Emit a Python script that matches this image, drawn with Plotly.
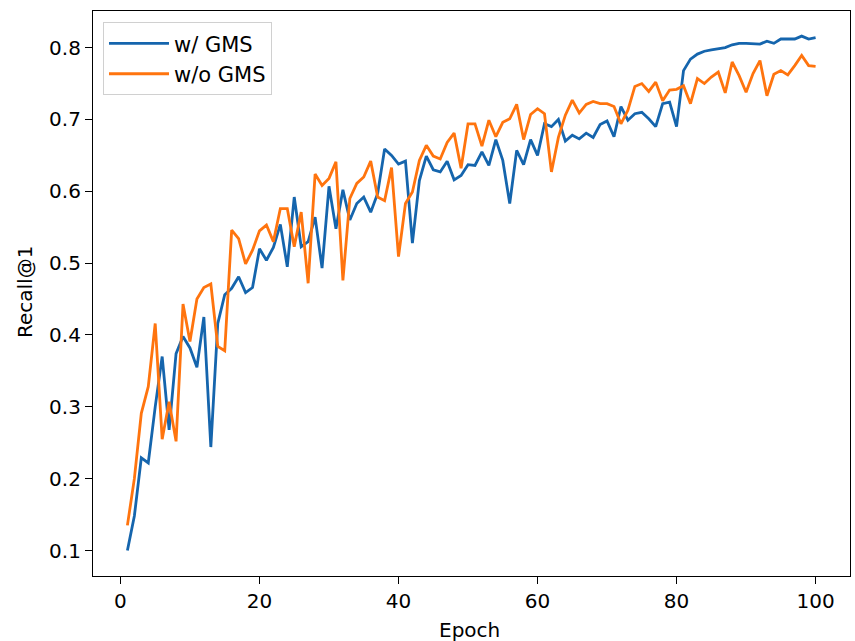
import plotly.graph_objects as go

epochs = list(range(1, 101))

with_gms = [
    0.100, 0.148, 0.229, 0.222, 0.300, 0.370, 0.268, 0.374, 0.398, 0.382,
    0.355, 0.425, 0.244, 0.416, 0.456, 0.465, 0.481, 0.459, 0.466, 0.520,
    0.504, 0.522, 0.554, 0.495, 0.592, 0.523, 0.530, 0.564, 0.493, 0.607,
    0.548, 0.602, 0.560, 0.583, 0.592, 0.571, 0.597, 0.659, 0.650, 0.638,
    0.642, 0.528, 0.615, 0.649, 0.630, 0.627, 0.642, 0.616, 0.622, 0.637,
    0.636, 0.655, 0.636, 0.672, 0.643, 0.583, 0.657, 0.637, 0.672, 0.650,
    0.694, 0.690, 0.700, 0.670, 0.678, 0.673, 0.681, 0.675, 0.693, 0.698,
    0.676, 0.718, 0.699, 0.708, 0.710, 0.701, 0.690, 0.722, 0.724, 0.690,
    0.768, 0.784, 0.791, 0.795, 0.797, 0.799, 0.800, 0.804, 0.806, 0.806,
    0.805, 0.805, 0.809, 0.806, 0.812, 0.812, 0.812, 0.816, 0.812, 0.814,
]

without_gms = [
    0.135, 0.200, 0.291, 0.328, 0.416, 0.255, 0.307, 0.252, 0.443, 0.391,
    0.450, 0.466, 0.471, 0.384, 0.378, 0.546, 0.534, 0.499, 0.518, 0.545,
    0.553, 0.530, 0.576, 0.576, 0.523, 0.571, 0.472, 0.624, 0.608, 0.618,
    0.641, 0.476, 0.590, 0.611, 0.620, 0.642, 0.592, 0.587, 0.633, 0.509,
    0.583, 0.599, 0.643, 0.664, 0.649, 0.645, 0.668, 0.681, 0.632, 0.694,
    0.694, 0.663, 0.699, 0.676, 0.696, 0.701, 0.721, 0.672, 0.707, 0.715,
    0.708, 0.627, 0.675, 0.706, 0.727, 0.709, 0.721, 0.725, 0.722, 0.722,
    0.718, 0.694, 0.713, 0.746, 0.750, 0.739, 0.752, 0.726, 0.741, 0.742,
    0.747, 0.722, 0.757, 0.750, 0.759, 0.766, 0.737, 0.780, 0.761, 0.738,
    0.764, 0.782, 0.733, 0.763, 0.768, 0.762, 0.775, 0.789, 0.775, 0.774,
]

series_names = ["w/ GMS", "w/o GMS"]
series_colors = ["#1565ad", "#ff740e"]

x_ticks = [0, 20, 40, 60, 80, 100]
y_ticks = [0.1, 0.2, 0.3, 0.4, 0.5, 0.6, 0.7, 0.8]

x_title = "Epoch"
y_title = "Recall@1"

font_family = "DejaVu Sans"

fig = go.Figure()
for name, vals, col in zip(series_names, [with_gms, without_gms], series_colors):
    fig.add_trace(go.Scatter(
        x=epochs, y=vals, mode="lines", name=name,
        line=dict(color=col, width=2.8),
    ))

axis_common = dict(
    showline=True, linecolor="black", linewidth=1.2, mirror=True,
    ticks="outside", ticklen=7, tickwidth=1.2, tickcolor="black",
    showgrid=False, zeroline=False, automargin=False,
    tickfont=dict(family=font_family, size=20, color="black"),
)

fig.update_layout(
    width=855, height=641,
    margin=dict(l=93, r=5, t=11, b=65),
    paper_bgcolor="white", plot_bgcolor="white",
    font=dict(family=font_family, size=20, color="black"),
    xaxis=dict(range=[-3.95, 104.95], tickvals=x_ticks, **axis_common),
    yaxis=dict(range=[0.0645, 0.851], tickvals=y_ticks, tickformat=".1f", **axis_common),
    legend=dict(
        x=0.0132, y=0.98, xanchor="left", yanchor="top",
        bgcolor="white", bordercolor="#d0d0d0", borderwidth=1,
        font=dict(family=font_family, size=21, color="black"),
        itemwidth=60, tracegroupgap=0,
    ),
    showlegend=True,
)

fig.add_annotation(
    text=x_title, xref="paper", yref="paper", x=0.498, y=-0.0956,
    xanchor="center", yanchor="middle", showarrow=False,
    font=dict(family=font_family, size=20, color="black"),
)
fig.add_annotation(
    text=y_title, xref="paper", yref="paper", x=-0.0898, y=0.5027,
    xanchor="center", yanchor="middle", showarrow=False, textangle=-90,
    font=dict(family=font_family, size=20, color="black"),
)

fig.write_html(
    "out.html",
    config={"displayModeBar": False},
    post_script="document.body.style.margin='0';document.body.style.overflow='hidden';",
)
